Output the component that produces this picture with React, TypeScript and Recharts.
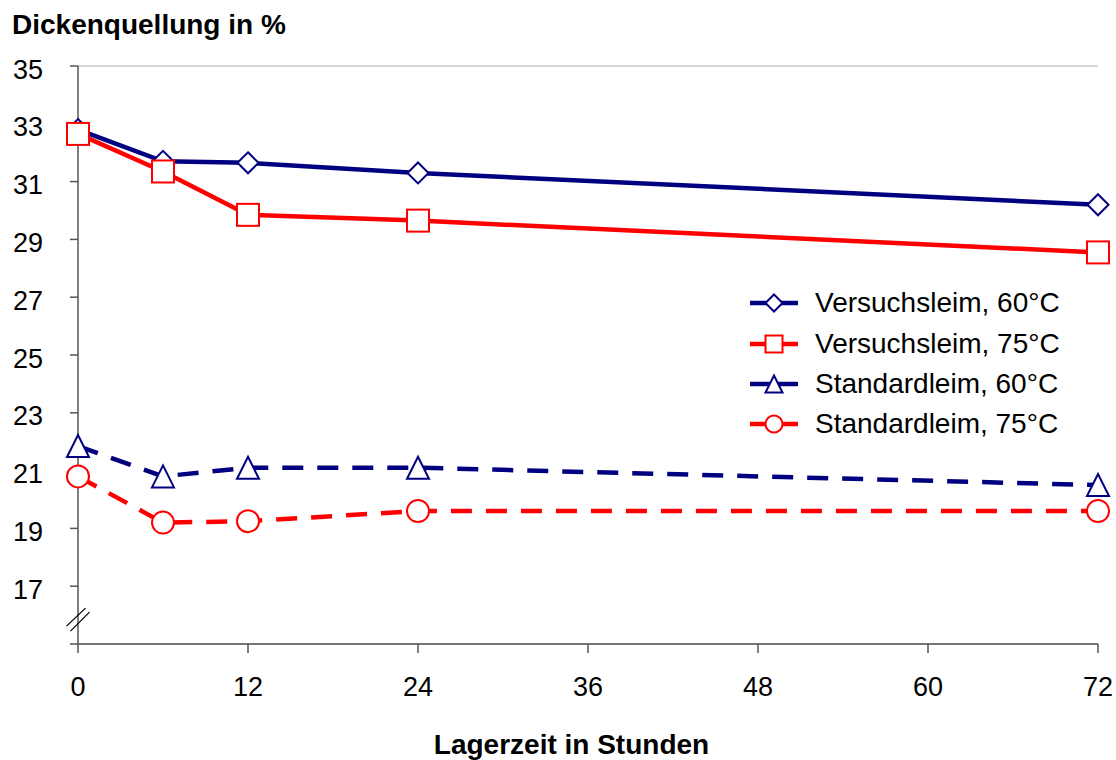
import React from "react";
import {
  LineChart, Line, XAxis, YAxis, CartesianGrid, ReferenceDot,
} from "recharts";

const hours = [0, 6, 12, 24, 72];
const versuch60 = [32.8, 31.7, 31.65, 31.3, 30.2];
const versuch75 = [32.65, 31.35, 29.85, 29.65, 28.55];
const standard60 = [21.85, 20.8, 21.1, 21.1, 20.5];
const standard75 = [20.8, 19.2, 19.25, 19.6, 19.6];

const xTicks = [0, 12, 24, 36, 48, 60, 72];
const yTicks = [15, 17, 19, 21, 23, 25, 27, 29, 31, 33, 35];

const NAVY = "#000080";
const RED = "#ff0000";
const AXIS = "#555555";
const FONT = "'Liberation Sans', Arial, sans-serif";

const data = hours.map((h, i) => ({
  h,
  v60: versuch60[i],
  v75: versuch75[i],
  s60: standard60[i],
  s75: standard75[i],
}));

type Shape = "diamond" | "square" | "triangle" | "circle";

function Marker({ shape, cx, cy, r, color }: { shape: Shape; cx: number; cy: number; r: number; color: string }) {
  const common = { fill: "#fff", stroke: color, strokeWidth: 2 };
  if (shape === "diamond")
    return <polygon points={`${cx},${cy - r} ${cx + r},${cy} ${cx},${cy + r} ${cx - r},${cy}`} {...common} />;
  if (shape === "square")
    return <rect x={cx - r} y={cy - r} width={2 * r} height={2 * r} {...common} />;
  if (shape === "triangle")
    return <polygon points={`${cx},${cy - r} ${cx + r},${cy + r} ${cx - r},${cy + r}`} {...common} />;
  return <circle cx={cx} cy={cy} r={r} {...common} />;
}

const dotFor = (shape: Shape, color: string, r: number) => (props: any) => {
  const { cx, cy, index } = props;
  if (cx == null || cy == null) return <g key={index} />;
  return (
    <g key={index}>
      <Marker shape={shape} cx={cx} cy={cy} r={r} color={color} />
    </g>
  );
};

const series = [
  { key: "v60", name: "Versuchsleim, 60°C", color: NAVY, shape: "diamond" as Shape, dash: undefined, r: 10.5 },
  { key: "v75", name: "Versuchsleim, 75°C", color: RED, shape: "square" as Shape, dash: undefined, r: 11 },
  { key: "s60", name: "Standardleim, 60°C", color: NAVY, shape: "triangle" as Shape, dash: "21 14", r: 11 },
  { key: "s75", name: "Standardleim, 75°C", color: RED, shape: "circle" as Shape, dash: "21 14", r: 11 },
];

function YTick(props: any) {
  const { x, y, payload } = props;
  if (payload.value === 15) return <g />;
  return (
    <text x={x} y={y + 3} dy="0.355em" textAnchor="end" fontSize={27} fontFamily={FONT} fill="#000">
      {payload.value}
    </text>
  );
}

function XTick(props: any) {
  const { x, y, payload } = props;
  return (
    <text x={x} y={y} dy="0.71em" textAnchor="middle" fontSize={27} fontFamily={FONT} fill="#000">
      {payload.value}
    </text>
  );
}

function LegendBox() {
  return (
    <div style={{ position: "absolute", left: 716, top: 275, background: "#fff", width: 361, padding: "8px 0 8px 34px", boxSizing: "border-box", fontFamily: FONT }}>
      {series.map((s) => (
        <div key={s.key} style={{ display: "flex", alignItems: "center", height: 40.4 }}>
          <svg width={48} height={24} style={{ display: "block" }}>
            <line x1={0} y1={12} x2={47} y2={12} stroke={s.color} strokeWidth={4.5} strokeLinecap="round" />
            <Marker shape={s.shape} cx={24} cy={12} r={8.5} color={s.color} />
          </svg>
          <span style={{ marginLeft: 17, fontSize: 28, lineHeight: "28px", color: "#000", whiteSpace: "nowrap" }}>{s.name}</span>
        </div>
      ))}
    </div>
  );
}

function BreakMark(props: any) {
  const { cx, cy } = props;
  if (cx == null || cy == null) return <g />;
  return (
    <g stroke="#000" strokeWidth={1.3}>
      <line x1={cx - 11.5} y1={cy + 7} x2={cx + 7.5} y2={cy - 11} />
      <line x1={cx - 7.5} y1={cy + 12} x2={cx + 11.5} y2={cy - 7} />
    </g>
  );
}

export default function App() {
  return (
    <div style={{ position: "absolute", left: 0, top: 0, width: 1116, height: 760, background: "#fff" }}>
      <div style={{ position: "absolute", left: 12, top: 11, fontFamily: FONT, fontWeight: "bold", fontSize: 28, lineHeight: "28px", whiteSpace: "nowrap" }}>
        Dickenquellung in %
      </div>
      <div style={{ position: "absolute", left: 0, width: 1143, top: 731, textAlign: "center", fontFamily: FONT, fontWeight: "bold", fontSize: 28, lineHeight: "28px", whiteSpace: "nowrap" }}>
        Lagerzeit in Stunden
      </div>
      <LineChart width={1116} height={760} data={data} margin={{ top: 66, right: 18, bottom: 0, left: 0 }}>
        <CartesianGrid horizontal vertical={false} stroke="#c8c8c8" strokeWidth={1.5} />
        <XAxis
          xAxisId="b"
          dataKey="h"
          type="number"
          domain={[0, 72]}
          ticks={xTicks}
          interval={0}
          height={116}
          stroke={AXIS}
          strokeWidth={1.5}
          tickSize={9}
          tickMargin={24}
          tick={<XTick />}
        />
        <XAxis xAxisId="t" orientation="top" type="number" domain={[0, 72]} height={0} tick={false} tickLine={false} stroke={AXIS} strokeWidth={1.5} />
        <YAxis
          yAxisId="l"
          type="number"
          domain={[15, 35]}
          ticks={yTicks}
          interval={0}
          width={78}
          stroke={AXIS}
          strokeWidth={1.5}
          tickSize={8}
          tickMargin={27}
          tick={<YTick />}
        />
        <YAxis yAxisId="r" orientation="right" type="number" domain={[15, 35]} width={0} tick={false} tickLine={false} stroke={AXIS} strokeWidth={1.5} />
        <ReferenceDot xAxisId="b" yAxisId="l" x={0} y={15.86} shape={<BreakMark />} ifOverflow="visible" />
        {series.map((s) => (
          <Line
            key={s.key}
            xAxisId="b"
            yAxisId="l"
            type="linear"
            dataKey={s.key}
            name={s.name}
            stroke={s.color}
            strokeWidth={4.5}
            strokeDasharray={s.dash}
            dot={dotFor(s.shape, s.color, s.r)}
            activeDot={false}
            isAnimationActive={false}
          />
        ))}
      </LineChart>
      <LegendBox />
    </div>
  );
}
